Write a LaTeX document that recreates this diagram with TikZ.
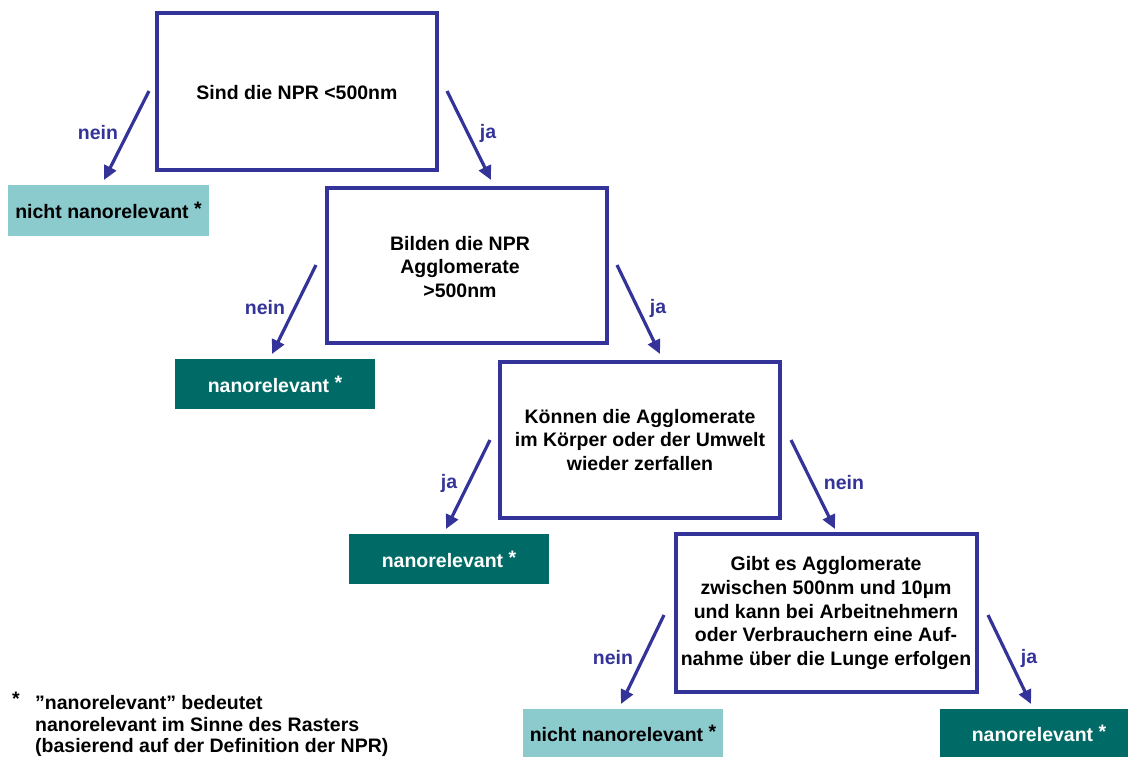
\documentclass[tikz,border=0pt]{standalone}
\usepackage{fontspec}
\setmainfont{Liberation Sans}
\usetikzlibrary{arrows.meta}
\definecolor{navy}{HTML}{333399}
\definecolor{lightteal}{HTML}{8BCACD}
\definecolor{darkteal}{HTML}{006B66}
\tikzset{
  qbox/.style={draw=navy, line width=3.2pt, fill=white, inner sep=0pt},
  qtext/.style={font=\fontsize{19.5}{23.6}\selectfont\bfseries, align=center, inner sep=0pt},
  resl/.style={fill=lightteal, inner sep=0pt, font=\fontsize{19.5}{22}\selectfont\bfseries, text=black},
  resd/.style={fill=darkteal, inner sep=0pt, font=\fontsize{19.5}{22}\selectfont\bfseries, text=white},
  conn/.style={draw=navy, line width=3.2pt, -{Triangle[length=14pt,width=13pt]}},
  lbl/.style={text=navy, font=\fontsize{19.5}{22}\selectfont\bfseries},
}
\begin{document}
\begin{tikzpicture}[x=1pt,y=-1pt]
\useasboundingbox (0,0) rectangle (1128,757);
% question boxes
\node[qbox, minimum width=280pt, minimum height=157pt] (q1) at (297,91.5) {};
\node[qtext] (t1) at (297,93) {Sind die NPR <500nm};
\node[qbox, minimum width=280pt, minimum height=155pt] (q2) at (467,265.5) {};
\node[qtext] (t2) at (460,267) {Bilden die NPR\\Agglomerate\\>500nm};
\node[qbox, minimum width=280pt, minimum height=156pt] (q3) at (640,440) {};
\node[qtext] (t3) at (640,440) {Können die Agglomerate\\im Körper oder der Umwelt\\wieder zerfallen};
\node[qbox, minimum width=301pt, minimum height=158pt] (q4) at (826.5,613) {};
\node[qtext] (t4) at (826,613) {Gibt es Agglomerate\\zwischen 500nm und 10µm\\und kann bei Arbeitnehmern\\oder Verbrauchern eine Auf-\\nahme über die Lunge erfolgen};
% result boxes
\node[resl, minimum width=201pt, minimum height=51pt] (r1) at (108.5,210.5) {nicht nanorelevant \raisebox{3pt}{*}};
\node[resd, minimum width=200pt, minimum height=50pt] (r2) at (275,384) {nanorelevant \raisebox{3pt}{*}};
\node[resd, minimum width=200pt, minimum height=50pt] (r3) at (449,559) {nanorelevant \raisebox{3pt}{*}};
\node[resl, minimum width=200pt, minimum height=49pt] (r4) at (623,733.5) {nicht nanorelevant \raisebox{3pt}{*}};
\node[resd, minimum width=188pt, minimum height=49pt] (r5) at (1034,733.5) {\hspace{10pt}nanorelevant \raisebox{3pt}{*}};
% arrow coordinates
\coordinate (a1s) at (149,91);  \coordinate (a1e) at (104,180);
\coordinate (a2s) at (447,91);  \coordinate (a2e) at (491,180);
\coordinate (a3s) at (316,265); \coordinate (a3e) at (272,354);
\coordinate (a4s) at (617,265); \coordinate (a4e) at (660,354);
\coordinate (a5s) at (490,440); \coordinate (a5e) at (446,529);
\coordinate (a6s) at (791,440); \coordinate (a6e) at (835,529);
\coordinate (a7s) at (664,615); \coordinate (a7e) at (621,704);
\coordinate (a8s) at (988,615); \coordinate (a8e) at (1031,704);
\draw[conn] (a1s) -- (a1e);
\draw[conn] (a2s) -- (a2e);
\draw[conn] (a3s) -- (a3e);
\draw[conn] (a4s) -- (a4e);
\draw[conn] (a5s) -- (a5e);
\draw[conn] (a6s) -- (a6e);
\draw[conn] (a7s) -- (a7e);
\draw[conn] (a8s) -- (a8e);
% labels
\node[lbl] (l1) at (98,133) {nein};
\node[lbl] (l2) at (488,133) {ja};
\node[lbl] (l3) at (265,308) {nein};
\node[lbl] (l4) at (658,308) {ja};
\node[lbl] (l5) at (449,483) {ja};
\node[lbl] (l6) at (844,483) {nein};
\node[lbl] (l7) at (613,658) {nein};
\node[lbl] (l8) at (1029,658) {ja};
% footnote
\node[font=\fontsize{19.5}{22}\selectfont\bfseries] (fstar) at (16,699) {*};
\node[anchor=north west, inner sep=0pt, font=\fontsize{19.5}{21.7}\selectfont\bfseries, align=left] (fn) at (35,695) {”nanorelevant” bedeutet\\nanorelevant im Sinne des Rasters\\(basierend auf der Definition der NPR)};
\end{tikzpicture}
\end{document}
